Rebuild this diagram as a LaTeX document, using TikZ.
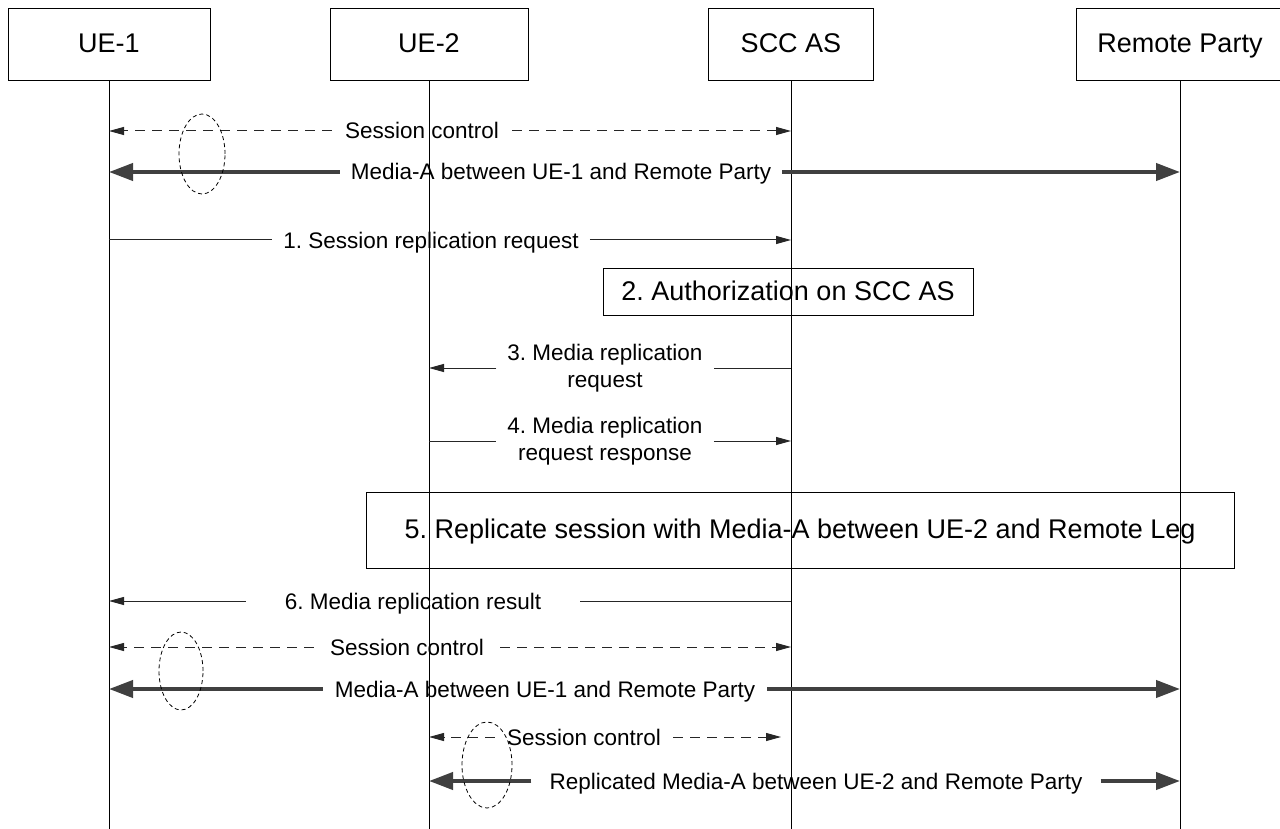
\documentclass[tikz,border=0pt]{standalone}
\usepackage{fontspec}
\setmainfont{Liberation Sans}
\usetikzlibrary{arrows.meta,shapes.geometric,calc}
\frenchspacing
\begin{document}
\begin{tikzpicture}[x=1pt,y=-1pt,
  head/.style={draw, line width=0.8pt, minimum height=72pt, inner sep=0pt, text height=19.4pt, text depth=3pt, font=\fontsize{27}{30}\selectfont},
  stepbox/.style={draw, line width=0.8pt, inner sep=0pt, text height=19.4pt, text depth=3pt, font=\fontsize{27}{30}\selectfont},
  lbl/.style={inner ysep=0pt, font=\fontsize{22.5}{27}\selectfont, align=center},
  lbl1/.style={lbl, text height=16pt, text depth=0pt},
  life/.style={line width=0.9pt},
  thin/.style={line width=1pt, black!85},
  tipthin/.style={-{Triangle[length=15pt,width=8pt]}},
  ctrl/.style={line width=1pt, black!85, dash pattern=on 10pt off 7pt},
  media/.style={line width=4pt, black!75, -{Triangle[length=24pt,width=17pt]}},
  grp/.style={draw, ellipse, dash pattern=on 4pt off 3pt, line width=0.8pt, inner sep=0pt}
]
\useasboundingbox (0,0) rectangle (1280,829);
\fill[white] (0,0) rectangle (1280,829);

% headers
\node[head, minimum width=202pt] (ue1) at (109,44) {UE-1};
\node[head, minimum width=198pt] (ue2) at (429,44) {UE-2};
\node[head, minimum width=165pt] (scc) at (791,44) {SCC AS};
\node[head, minimum width=208pt] (rp) at (1180,44) {Remote Party};
\coordinate (bot) at (0,829);

% lifelines
\draw[life] (ue1.south) -- (ue1.south |- bot);
\draw[life] (ue2.south) -- (ue2.south |- bot);
\draw[life] (scc.south) -- (scc.south |- bot);
\draw[life] (rp.south) -- (rp.south |- bot);

% Session control (top)
\node[lbl1, inner xsep=13pt] (m1) at (422,131) {Session control};
\draw[ctrl, tipthin] (m1.west) -- (ue1 |- m1);
\draw[ctrl, tipthin] (m1.east) -- (scc |- m1);

% Media-A (top)
\node[lbl1, inner xsep=11pt] (m2) at (561,172) {Media-A between UE-1 and Remote Party};
\draw[media] (m2.west) -- (ue1 |- m2);
\draw[media] (m2.east) -- (rp |- m2);
\node[grp, minimum width=46pt, minimum height=80pt] (e1) at (202,154) {};

% 1.
\node[lbl1, inner xsep=11pt] (m3) at (431,240) {1. Session replication request};
\draw[thin] (ue1 |- m3) -- (m3.west);
\draw[thin, tipthin] (m3.east) -- (scc |- m3);

% 2.
\node[stepbox, minimum width=370pt, minimum height=47pt] (b2) at (788,292) {2. Authorization on SCC AS};

% 3.
\node[lbl, inner xsep=11pt] (m4) at (605,368) {3. Media replication\\request};
\draw[thin] (scc |- m4) -- (m4.east);
\draw[thin, tipthin] (m4.west) -- (ue2 |- m4);

% 4.
\node[lbl, inner xsep=11pt] (m5) at (605,441) {4. Media replication\\request response};
\draw[thin] (ue2 |- m5) -- (m5.west);
\draw[thin, tipthin] (m5.east) -- (scc |- m5);

% 5.
\node[stepbox, minimum width=868pt, minimum height=76pt] (b5) at (800,530) {5. Replicate session with Media-A between UE-2 and Remote Leg};

% 6.
\node[lbl1, inner xsep=39pt] (m6) at (413,601) {6. Media replication result};
\draw[thin] (scc |- m6) -- (m6.east);
\draw[thin, tipthin] (m6.west) -- (ue1 |- m6);

% Session control (second)
\node[lbl1, inner xsep=16pt] (m7) at (407,647) {Session control};
\draw[ctrl, tipthin] (m7.west) -- (ue1 |- m7);
\draw[ctrl, tipthin] (m7.east) -- (scc |- m7);

% Media-A (second)
\node[lbl1, inner xsep=12pt] (m8) at (545,689) {Media-A between UE-1 and Remote Party};
\draw[media] (m8.west) -- (ue1 |- m8);
\draw[media] (m8.east) -- (rp |- m8);
\node[grp, minimum width=44pt, minimum height=78pt] (e2) at (181,671) {};

% Session control (UE-2)
\node[lbl1, inner xsep=12pt] (m9) at (584,737) {Session control};
\coordinate (c9) at ($(scc |- m9)+(-10,0)$);
\draw[ctrl, tipthin] (m9.west) -- (ue2 |- m9);
\draw[ctrl, tipthin] (m9.east) -- (c9);

% Replicated Media-A
\node[lbl1, inner xsep=18pt] (m10) at (816,781) {Replicated Media-A between UE-2 and Remote Party};
\draw[media] (m10.west) -- (ue2 |- m10);
\draw[media] (m10.east) -- (rp |- m10);
\node[grp, minimum width=50pt, minimum height=86pt] (e3) at (487,765) {};
\end{tikzpicture}
\end{document}
